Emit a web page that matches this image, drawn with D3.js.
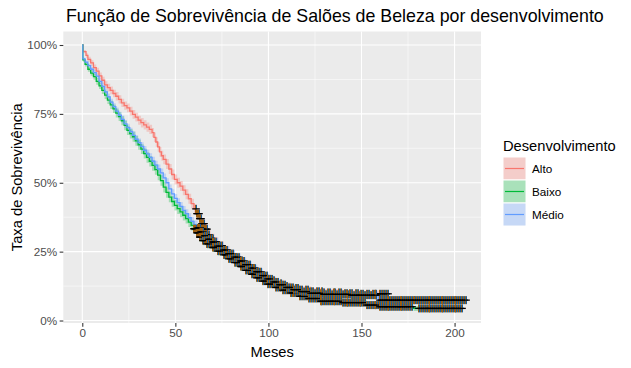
<!DOCTYPE html>
<html><head><meta charset="utf-8">
<script src="https://cdn.jsdelivr.net/npm/d3@7"></script>
<style>body{margin:0;background:#fff} text{font-family:"Liberation Sans",Arial,sans-serif}</style>
</head><body><svg id="c" width="631" height="368"></svg>
<script>
const titleText = "Função de Sobrevivência de Salões de Beleza por desenvolvimento";
const xTitle = "Meses";
const yTitle = "Taxa de Sobrevivência";
const legendTitle = "Desenvolvimento";
const groups = ["Alto", "Baixo", "Médio"];
const colors = ["#F8766D", "#00BA38", "#619CFF"];
const xTicks = [0, 50, 100, 150, 200];
const yTicks = [0, 0.25, 0.5, 0.75, 1];

const altoTime = [0,0.5,2,3,4.5,6,7.5,9,10.5,12, 13.5,15,16.5,18,19.5,21,22.5,24,25.5,27, 28.5,30,31.5,33,34.5,36,37.5,38.5,39.5,40.5, 41.5,42.5,43.5,45,46.5,48,49.5,51,52.5,54, 55.5,57,58.5,60,61.5,63,64.5,66,67.5,69, 71,73,76,79,82,85,88,91,94,97, 100,104,108,112,117,123,130,140,150];
const altoSurv = [1,.976,.962,.948,.935,.918,.905,.888,.872,.855, .845,.835,.824,.814,.803,.79,.78,.772,.76,.748, .738,.727,.718,.71,.702,.694,.682,.665,.648,.63, .612,.598,.585,.568,.55,.53,.512,.5,.488,.473, .458,.442,.424,.405,.388,.37,.352,.332,.312,.298, .285,.272,.255,.238,.222,.207,.193,.18,.168,.156, .146,.135,.125,.118,.112,.106,.102,.099,.097];
const altoCI = [0,.006,.008,.009,.01,.011,.012,.012,.013,.013, .014,.014,.014,.015,.015,.015,.015,.016,.016,.016, .016,.016,.017,.017,.017,.017,.017,.017,.017,.017, .018,.018,.018,.018,.018,.018,.018,.018,.018,.018, .018,.018,.018,.018,.018,.018,.018,.017,.017,.017, .017,.016,.016,.016,.015,.015,.015,.014,.014,.014, .013,.013,.013,.012,.012,.012,.012,.012,.012];
const altoEnd = 164;
const altoCensor = [61,61.5,62,62.5,63,63.5,64,64.5,65,65.5,66,66.5,67,68,69,70,71,72,74,75,77,78,80,81,83,84,86,88,89,90,92,93,95,97,98,100,102,103,105,107,108,110,112,113,115,116,118,120,121,123,124,126,127,129,130,132,133,135,136,138,139,141,142,144,145,147,148,150,151,153,154,156,157,158,160,161,162,163,164];

const baixoTime = [0,0.3,1.5,3,4.5,6,7.5,9,10.5,12, 13.5,15,16.5,18,19.5,21,22.5,24,25.5,27, 28.5,30,31.5,33,34.5,36,37.5,39,40.5,42, 43.5,45,46.5,48,49.5,51,52.5,54,55.5,57, 58.5,60,61.5,63,65,67,70,73,76,79, 82,85,88,91,94,97,100,104,108,112, 117,122,128,140,153,160,178];
const baixoSurv = [1,.946,.93,.912,.898,.885,.868,.852,.835,.818, .8,.783,.768,.753,.74,.725,.708,.69,.678,.667, .652,.638,.622,.606,.592,.578,.563,.548,.528,.508, .484,.465,.448,.432,.418,.406,.394,.382,.37,.357, .345,.333,.318,.303,.29,.278,.265,.252,.238,.224, .21,.196,.182,.168,.155,.143,.132,.12,.11,.1, .088,.08,.07,.065,.056,.05,.044];
const baixoCI = [0,.007,.008,.009,.01,.011,.012,.012,.013,.014, .014,.015,.015,.016,.016,.016,.017,.017,.017,.018, .018,.018,.018,.018,.019,.019,.019,.019,.019,.019, .019,.019,.019,.019,.019,.019,.019,.019,.018,.018, .018,.018,.018,.017,.017,.017,.016,.016,.016,.015, .015,.015,.014,.014,.014,.013,.013,.012,.012,.011, .011,.01,.01,.009,.009,.009,.009];
const baixoEnd = 204;
const baixoCensor = [60,60.5,61,61.5,62,62.5,63,63.5,64,65,66,66.5,67,68,69,70,71,72,73,74,75,76,77,78,79,80,81,82,83,84,85,86,87,88,89,90,91,92,93,94,95,96,97,98,99,100,101,102,103,104,105,106,107,108,109,110,111,112,113,114,115,116,117,118,119,120,121,122,123,124,125,126,127,128,129,130,131,132,133,134,135,136,137,138,139,140,141,142,143,144,145,146,147,148,149,150,151,152,153,154,155,156,157,158,159,160,161,162,163,164,165,166,167,168,169,170,171,172,173,174,175,176,177,181,182,183,184,185,186,187,188,189,190,191,192,193,194,195,196,197,198,199,200,201,202,203,204];

const medioTime = [0,0.3,1.5,3,4.5,6,7.5,9,10.5,12, 13.5,15,16.5,18,19.5,21,22.5,24,25.5,27, 28.5,30,31.5,33,34.5,36,37.5,39,40.5,42, 43.5,45,46.5,48,49.5,51,52.5,54,55.5,57, 58.5,60,62,64,66,68,70,73,76,79, 82,85,88,91,94,97,100,103,106,110, 114,118,123,130,145,159];
const medioSurv = [1,.95,.938,.925,.912,.9,.887,.868,.85,.83, .812,.793,.776,.76,.745,.73,.714,.7,.686,.672, .658,.646,.632,.618,.605,.592,.578,.564,.55,.536, .518,.5,.478,.46,.443,.428,.414,.4,.388,.373, .36,.348,.336,.322,.308,.295,.285,.27,.256,.243, .23,.216,.203,.19,.177,.163,.151,.14,.13,.12, .112,.105,.099,.095,.092,.074];
const medioCI = [0,.005,.006,.007,.008,.009,.009,.01,.011,.011, .012,.012,.013,.013,.013,.014,.014,.014,.014,.015, .015,.015,.015,.015,.015,.015,.016,.016,.016,.016, .016,.016,.016,.016,.016,.016,.016,.016,.016,.016, .016,.015,.015,.015,.015,.015,.015,.014,.014,.014, .014,.014,.013,.013,.013,.013,.012,.012,.012,.012, .012,.012,.012,.012,.012,.013];
const medioEnd = 206;
const medioCensor = [62,62.5,63,63.5,64,64.5,65,66,67,68,69,70,71,72,73,74,75,76,77,78,79,80,81,82,83,84,85,86,87,88,89,90,91,92,93,94,95,96,97,98,99,100,101,102,103,104,105,106,107,108,109,110,111,112,113,114,115,116,117,118,119,120,121,122,123,124,125,126,127,128,129,130,131,132,133,134,135,136,137,138,139,140,141,142,143,144,145,146,147,148,149,150,151,152,153,154,155,156,157,158,160,161,162,163,164,165,166,167,168,169,170,171,172,173,174,175,176,177,178,179,180,181,182,183,184,185,186,187,188,189,190,191,192,193,194,195,196,197,198,199,200,201,202,203,204,205,206];

const series = [
  {time: altoTime, surv: altoSurv, ci: altoCI, end: altoEnd, censor: altoCensor},
  {time: baixoTime, surv: baixoSurv, ci: baixoCI, end: baixoEnd, censor: baixoCensor},
  {time: medioTime, surv: medioSurv, ci: medioCI, end: medioEnd, censor: medioCensor}
];

const P = {left: 63.3, right: 481, top: 31.5, bottom: 323};
const x = d3.scaleLinear().domain([-10.2, 214.2]).range([P.left, P.right]);
const y = d3.scaleLinear().domain([-0.009, 1.049]).range([P.bottom, P.top]);

const svg = d3.select("#c");
svg.append("rect").attr("width", 631).attr("height", 368).attr("fill", "#fff");

svg.append("rect").attr("x", P.left).attr("y", P.top).attr("width", P.right - P.left)
  .attr("height", P.bottom - P.top).attr("fill", "#EBEBEB");
svg.append("clipPath").attr("id", "clip").append("rect").attr("x", P.left).attr("y", P.top)
  .attr("width", P.right - P.left).attr("height", P.bottom - P.top);

const grid = svg.append("g");
const xMinor = xTicks.slice(0, -1).map((d, i) => (d + xTicks[i + 1]) / 2);
const yMinor = yTicks.slice(0, -1).map((d, i) => (d + yTicks[i + 1]) / 2);
xMinor.forEach(v => grid.append("line").attr("x1", x(v)).attr("x2", x(v)).attr("y1", P.top).attr("y2", P.bottom).attr("stroke", "#fff").attr("stroke-width", 0.53));
yMinor.forEach(v => grid.append("line").attr("y1", y(v)).attr("y2", y(v)).attr("x1", P.left).attr("x2", P.right).attr("stroke", "#fff").attr("stroke-width", 0.53));
xTicks.forEach(v => grid.append("line").attr("x1", x(v)).attr("x2", x(v)).attr("y1", P.top).attr("y2", P.bottom).attr("stroke", "#fff").attr("stroke-width", 1.07));
yTicks.forEach(v => grid.append("line").attr("y1", y(v)).attr("y2", y(v)).attr("x1", P.left).attr("x2", P.right).attr("stroke", "#fff").attr("stroke-width", 1.07));

const plot = svg.append("g").attr("clip-path", "url(#clip)");

function pts(s) {
  const a = s.time.map((t, i) => ({t, s: s.surv[i], h: s.ci[i]}));
  const last = a[a.length - 1];
  a.push({t: s.end, s: last.s, h: last.h});
  return a;
}
function stepVal(s, t) {
  let v = s.surv[0];
  for (let i = 0; i < s.time.length; i++) { if (s.time[i] <= t) v = s.surv[i]; else break; }
  return v;
}

const area = d3.area().curve(d3.curveStepAfter).x(d => x(d.t))
  .y0(d => y(Math.max(0, d.s - d.h))).y1(d => y(Math.min(1, d.s + d.h)));
const line = d3.line().curve(d3.curveStepAfter).x(d => x(d.t)).y(d => y(d.s));

series.forEach((s, i) => {
  plot.append("path").attr("d", area(pts(s))).attr("fill", colors[i]).attr("fill-opacity", 0.3);
});
series.forEach((s, i) => {
  plot.append("path").attr("d", line(pts(s))).attr("fill", "none").attr("stroke", colors[i]).attr("stroke-width", 1.3);
});
const cg = plot.append("g");
series.forEach((s, i) => {
  s.censor.forEach(t => {
    const cx = Math.round(x(t)), cy = y(stepVal(s, t));
    cg.append("rect").attr("x", cx - 1).attr("y", cy - 4).attr("width", 1).attr("height", 8).attr("fill", "#9a5e12");
    cg.append("rect").attr("x", cx).attr("y", cy - 4).attr("width", 1).attr("height", 8).attr("fill", "#155e9e");
    cg.append("line").attr("x1", cx - 3.8).attr("x2", cx + 3.8).attr("y1", cy).attr("y2", cy).attr("stroke", "#000").attr("stroke-width", 1.3);
  });
});

const xAxis = svg.append("g").attr("transform", `translate(0,${P.bottom})`)
  .call(d3.axisBottom(x).tickValues(xTicks).tickSize(3.65).tickPadding(2.5));
const yAxis = svg.append("g").attr("transform", `translate(${P.left},0)`)
  .call(d3.axisLeft(y).tickValues(yTicks).tickFormat(d3.format(".0%")).tickSize(3.65).tickPadding(2.5));
[xAxis, yAxis].forEach(a => {
  a.select(".domain").remove();
  a.selectAll(".tick line").attr("stroke", "#333333").attr("stroke-width", 1.07);
  a.selectAll(".tick text").attr("fill", "#4D4D4D").attr("font-size", "11.7px").attr("font-family", "Liberation Sans, Arial, sans-serif");
});

svg.append("text").attr("x", 66).attr("y", 22).attr("font-size", "17.8px").attr("fill", "#000").text(titleText);
svg.append("text").attr("x", (P.left + P.right) / 2).attr("y", 357).attr("text-anchor", "middle").attr("font-size", "14.7px").attr("fill", "#000").text(xTitle);
svg.append("text").attr("transform", `translate(22,${(P.top + P.bottom) / 2}) rotate(-90)`).attr("text-anchor", "middle").attr("font-size", "14.7px").attr("fill", "#000").text(yTitle);

const lg = svg.append("g");
lg.append("text").attr("x", 503).attr("y", 151).attr("font-size", "14.7px").attr("fill", "#000").text(legendTitle);
groups.forEach((g, i) => {
  const ky = 157 + i * 23;
  lg.append("rect").attr("x", 503).attr("y", ky).attr("width", 23).attr("height", 23).attr("fill", "#F2F2F2").attr("stroke", "#fff").attr("stroke-width", 1);
  lg.append("rect").attr("x", 503.5).attr("y", ky + 0.5).attr("width", 22).attr("height", 22).attr("fill", colors[i]).attr("fill-opacity", 0.3);
  lg.append("line").attr("x1", 505).attr("x2", 524).attr("y1", ky + 11.5).attr("y2", ky + 11.5).attr("stroke", colors[i]).attr("stroke-width", 1.2);
  lg.append("text").attr("x", 532).attr("y", ky + 15.5).attr("font-size", "11.7px").attr("fill", "#000").text(g);
});
</script></body></html>
